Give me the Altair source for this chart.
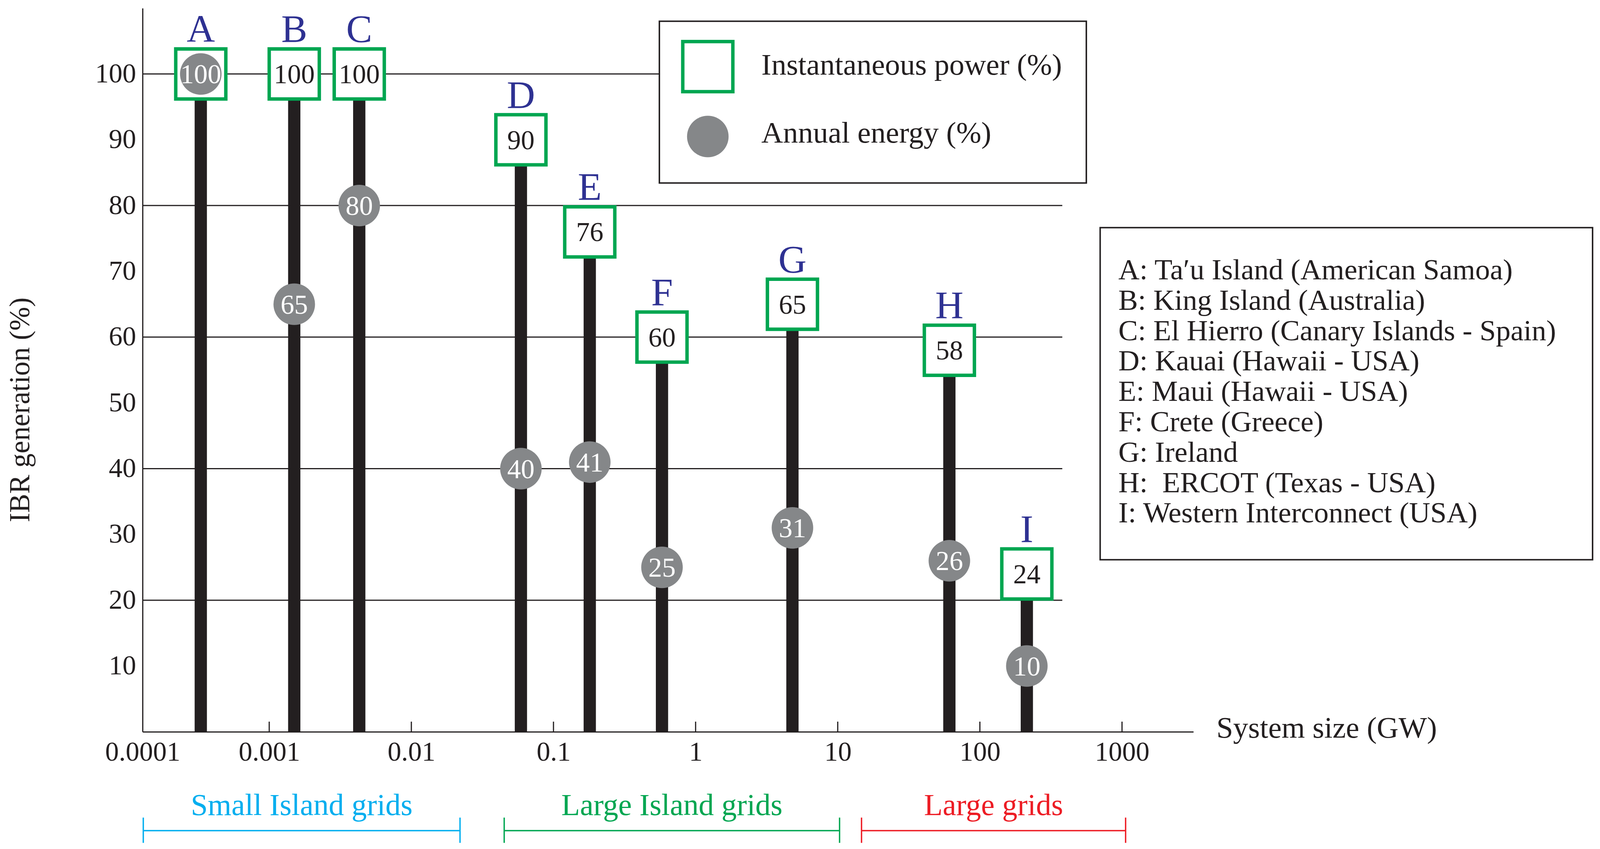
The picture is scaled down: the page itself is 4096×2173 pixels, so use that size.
import math
import altair as alt
import pandas as pd

# ---------------- data ----------------
labels = ["A", "B", "C", "D", "E", "F", "G", "H", "I"]
names = [
    "Ta′u Island (American Samoa)",
    "King Island (Australia)",
    "El Hierro (Canary Islands - Spain)",
    "Kauai (Hawaii - USA)",
    "Maui (Hawaii - USA)",
    "Crete (Greece)",
    "Ireland",
    "\u00a0ERCOT (Texas - USA)",
    "Western Interconnect (USA)",
]
size_gw = [0.00033, 0.0015, 0.0043, 0.059, 0.18, 0.58, 4.8, 61, 214]
inst_power = [100, 100, 100, 90, 76, 60, 65, 58, 24]
annual_energy = [100, 65, 80, 40, 41, 25, 31, 26, 10]

y_tick_values = [10, 20, 30, 40, 50, 60, 70, 80, 90, 100]
grid_levels = [20, 40, 60, 80, 100]
x_tick_values = [0.001, 0.01, 0.1, 1, 10, 100, 1000]

legend_labels = ["Instantaneous power (%)", "Annual energy (%)"]

groups = ["Small Island grids", "Large Island grids", "Large grids"]
group_lo = [0.00013, 0.045, 14.7]
group_hi = [0.022, 10.3, 1060]
group_colors = ["#00aeef", "#00a651", "#ed1c24"]

x_title = "System size (GW)"
y_title = "IBR generation (%)"

# ---------------- style ----------------
FONT = "Liberation Serif"
DARK = "#231f20"
GREEN = "#00a651"
BLUE = "#2e3192"
GREY = "#858789"

W, H = 2690, 1852
XMIN, XMAX = 10 ** -3.891, 10 ** 3.502
GRID_END = 380

df = pd.DataFrame({
    "label": labels, "name": names, "size": size_gw,
    "inst": inst_power, "energy": annual_energy,
})
df["base"] = 0

xscale = alt.Scale(type="log", domain=[XMIN, XMAX], nice=False)
yscale = alt.Scale(domain=[0, 110], nice=False, zero=False)

xaxis = alt.Axis(
    values=[XMIN] + x_tick_values,
    labelExpr="datum.value < 0.0005 ? '0.0001' : format(datum.value, '~g')",
    labelFlush=False, labelOverlap=False, labelLimit=600,
    ticks=False, tickSize=0, grid=False,
    domain=True, domainColor=DARK, domainWidth=3,
    labelFont=FONT, labelFontSize=70, labelColor=DARK, labelPadding=18,
    title=None,
)
yaxis = alt.Axis(
    values=y_tick_values, ticks=False, tickSize=0, grid=False,
    domain=True, domainColor=DARK, domainWidth=3, labelLimit=600,
    labelFont=FONT, labelFontSize=70, labelColor=DARK, labelPadding=17,
    labelBaseline="middle", title=None,
)


def X(f):
    return alt.X(f"{f}:Q", scale=xscale, axis=xaxis)


def Y(f):
    return alt.Y(f"{f}:Q", scale=yscale, axis=yaxis)


# gridlines
grid_df = pd.DataFrame({"level": grid_levels, "x0": XMIN, "x1": GRID_END})
grid = alt.Chart(grid_df).mark_rule(color=DARK, strokeWidth=3).encode(
    x=X("x0"), x2="x1", y=Y("level"))

# stems
stems = alt.Chart(df).mark_rule(color=DARK, strokeWidth=31.4).encode(
    x=X("size"), y=Y("base"), y2="inst")

# inward x ticks
xt_df = pd.DataFrame({"v": x_tick_values})
xticks = alt.Chart(xt_df).mark_rule(color=DARK, strokeWidth=3).encode(
    x=X("v"), y=alt.value(H), y2=alt.value(H - 26))

# boxes (instantaneous power)
boxes = alt.Chart(df).mark_point(
    shape="square", size=16436, filled=True, fill="white", fillOpacity=1,
    stroke=GREEN, strokeWidth=8.8, opacity=1,
).encode(x=X("size"), y=Y("inst"))
box_txt = alt.Chart(df).mark_text(
    font=FONT, fontSize=70, color=DARK, baseline="alphabetic", dy=24
).encode(x=X("size"), y=Y("inst"), text="inst:Q")
letters = alt.Chart(df).mark_text(
    font=FONT, fontSize=100, color=BLUE, baseline="alphabetic", dy=-82
).encode(x=X("size"), y=Y("inst"), text="label:N")

# circles (annual energy)
circles = alt.Chart(df).mark_circle(size=11310, color=GREY, opacity=1).encode(
    x=X("size"), y=Y("energy"))
circ_txt = alt.Chart(df).mark_text(
    font=FONT, fontSize=70, color="white", baseline="alphabetic", dy=24
).encode(x=X("size"), y=Y("energy"), text="energy:Q")

one = pd.DataFrame({"k": [0]})

# legend 1
leg1_box = alt.Chart(one).mark_rect(fill="white", stroke=DARK, strokeWidth=3.8).encode(
    x=alt.value(1323), x2=alt.value(2416), y=alt.value(33.3), y2=alt.value(447.4))
leg1_sq = alt.Chart(one).mark_point(
    shape="square", size=16436, filled=True, fill="white", fillOpacity=1,
    stroke=GREEN, strokeWidth=8.8, opacity=1,
).encode(x=alt.value(1447), y=alt.value(149.5))
leg1_ci = alt.Chart(one).mark_circle(size=11310, color=GREY, opacity=1).encode(
    x=alt.value(1447), y=alt.value(328.4))
leg1_t1 = alt.Chart(one).mark_text(
    font=FONT, fontSize=77, color=DARK, align="left", baseline="alphabetic"
).encode(x=alt.value(1584), y=alt.value(170.4), text=alt.value(legend_labels[0]))
leg1_t2 = alt.Chart(one).mark_text(
    font=FONT, fontSize=77, color=DARK, align="left", baseline="alphabetic"
).encode(x=alt.value(1584), y=alt.value(343.7), text=alt.value(legend_labels[1]))

# legend 2 (site names)
lines = [f"{l}: {n}" for l, n in zip(labels, names)]
leg2_box = alt.Chart(one).mark_rect(fill="white", stroke=DARK, strokeWidth=3.8).encode(
    x=alt.value(2451.4), x2=alt.value(3712), y=alt.value(561.7), y2=alt.value(1411.7))
leg2_txt = alt.Chart(one).mark_text(
    font=FONT, fontSize=75, color=DARK, align="left", baseline="alphabetic",
    lineHeight=77.8,
).encode(x=alt.value(2498), y=alt.value(694), text=alt.value(lines))

# category brackets
br_df = pd.DataFrame({"group": groups, "lo": group_lo, "hi": group_hi, "color": group_colors})
br_df["mid"] = [math.sqrt(a * b) for a, b in zip(group_lo, group_hi)]
br_line = alt.Chart(br_df).mark_rule(strokeWidth=3.5).encode(
    x=X("lo"), x2="hi", y=alt.value(2104.9),
    color=alt.Color("color:N", scale=None))
br_caps = alt.Chart(br_df).transform_fold(["lo", "hi"], as_=["end", "pos"]).mark_rule(
    strokeWidth=3.5).encode(
    x=X("pos"), y=alt.value(2071.6), y2=alt.value(2136.3),
    color=alt.Color("color:N", scale=None))
br_txt = alt.Chart(br_df).mark_text(font=FONT, fontSize=78, baseline="alphabetic").encode(
    x=X("mid"), y=alt.value(2064.9), text="group:N",
    color=alt.Color("color:N", scale=None))

# axis titles
xtitle = alt.Chart(one).mark_text(
    font=FONT, fontSize=77, color=DARK, align="left", baseline="alphabetic"
).encode(x=alt.value(2749), y=alt.value(1867), text=alt.value(x_title))
ytitle = alt.Chart(one).mark_text(
    font=FONT, fontSize=73, color=DARK, align="center", baseline="alphabetic", angle=270
).encode(x=alt.value(-290), y=alt.value(1028), text=alt.value(y_title))

chart = alt.layer(
    grid, stems, xticks, boxes, box_txt, circles, circ_txt, letters,
    leg1_box, leg1_sq, leg1_ci, leg1_t1, leg1_t2,
    leg2_box, leg2_txt,
    br_line, br_caps, br_txt,
    xtitle, ytitle,
).properties(
    width=W, height=H,
    autosize=alt.AutoSizeParams(type="none"),
    padding={"left": 357, "top": 13, "right": 1030, "bottom": 288},
).configure_view(stroke=None, strokeWidth=0)

chart.save("out.html", embed_options={"renderer": "svg", "actions": False})
